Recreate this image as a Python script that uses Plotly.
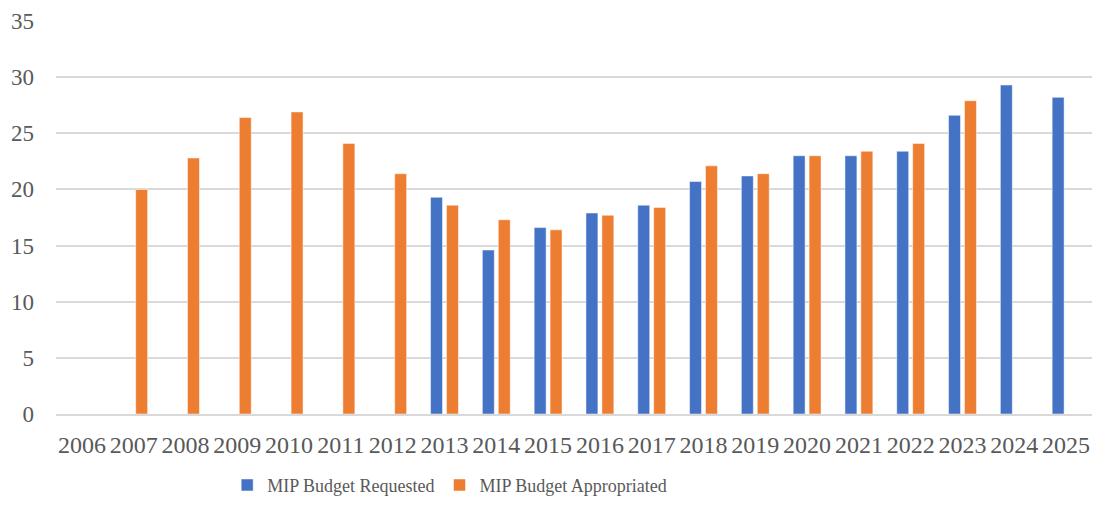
import plotly.graph_objects as go

years = [str(y) for y in range(2006, 2026)]
requested = [None, None, None, None, None, None, None,
             19.3, 14.6, 16.6, 17.9, 18.6, 20.7, 21.2, 23.0, 23.0, 23.4, 26.6, 29.3, 28.2]
appropriated = [None, 20.0, 22.8, 26.4, 26.9, 24.1, 21.4,
                18.6, 17.3, 16.4, 17.7, 18.4, 22.1, 21.4, 23.0, 23.4, 24.1, 27.9, None, None]

BLUE = "#4472C4"
ORANGE = "#ED7D31"
FONT = "Liberation Serif"
GREY = "#595959"

fig = go.Figure()
fig.add_trace(go.Bar(x=years, y=requested, name="MIP Budget Requested", marker_color=BLUE))
fig.add_trace(go.Bar(x=years, y=appropriated, name="MIP Budget Appropriated", marker_color=ORANGE))

# page body adds an 8px margin all round, keep the figure inside the window
fig.update_layout(
    width=1084,
    height=490,
    template="plotly_white",
    paper_bgcolor="white",
    plot_bgcolor="white",
    margin=dict(l=48, r=0, t=13, b=84, autoexpand=False),
    barmode="group",
    bargap=0.385,
    bargroupgap=0.25,
    font=dict(family=FONT, size=22, color=GREY),
    legend=dict(
        orientation="h",
        x=0.38,
        xanchor="center",
        yref="container",
        y=0.026,
        yanchor="middle",
        font=dict(family=FONT, size=18, color=GREY),
        itemwidth=30,
    ),
)
fig.update_xaxes(
    type="category",
    showgrid=False,
    showline=True,
    linecolor="#d9d9d9",
    linewidth=1.5,
    ticks="",
    ticklabelstandoff=8,
    ticklabeloverflow="allow",
    tickfont=dict(family=FONT, size=24, color=GREY),
)
fig.update_yaxes(
    range=[0, 35],
    dtick=5,
    showgrid=True,
    gridcolor="#d9d9d9",
    gridwidth=1.5,
    zeroline=False,
    showline=False,
    ticks="",
    ticklabelstandoff=21,
    tickfont=dict(family=FONT, size=23, color=GREY),
)

fig.write_html("out.html")
